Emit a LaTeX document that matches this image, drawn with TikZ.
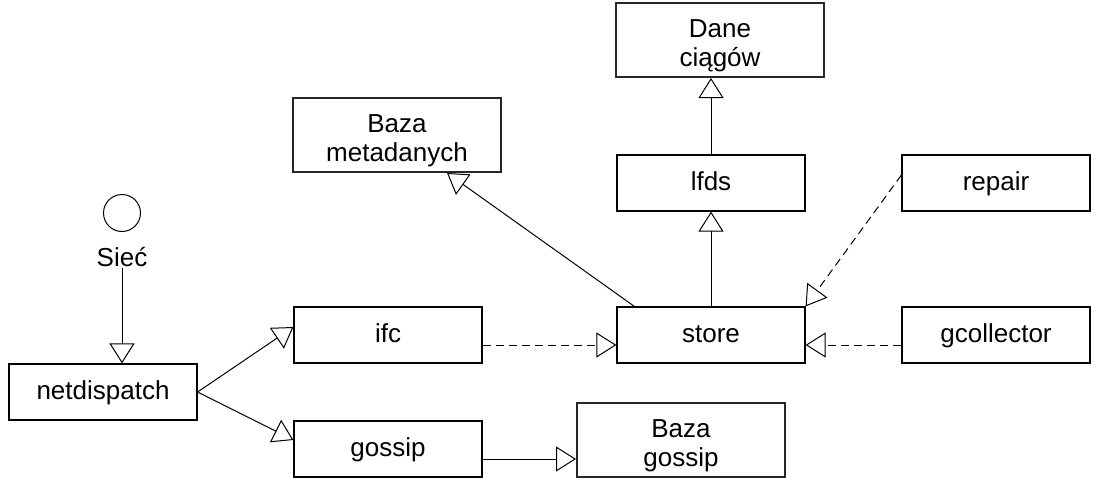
\documentclass[tikz,border=0pt]{standalone}
\usepackage{fontspec}
\setmainfont{Liberation Sans}
\usetikzlibrary{arrows.meta,positioning}

\begin{document}
\begin{tikzpicture}[x=1pt,y=-1pt,
	box/.style={draw,line width=1.2pt,minimum width=188pt,minimum height=56pt,inner sep=0pt,
		text height=19pt,text depth=5pt,font=\fontsize{26}{29}\selectfont},
	dbbox/.style={box,line width=2pt,draw=black!85,minimum width=208pt,minimum height=74pt,align=center,
		text height=63pt,text depth=10pt},
	inh/.style={line width=1pt,-{Triangle[open,length=20pt,width=25pt]}},
	dep/.style={inh,dash pattern=on 8pt off 5pt}]
	\useasboundingbox (0,0) rectangle (1100,490);
	% moduly
	\node[dbbox] (dane) at (720,40) {Dane\\ciągów};
	\node[dbbox] (meta) at (397,135) {Baza\\metadanych};
	\node[box] (lfds) at (711,183) {lfds};
	\node[box] (repair) at (996,183) {repair};
	\node[box] (ifc) at (388,335) {ifc};
	\node[box] (store) at (711,335) {store};
	\node[box] (gcoll) at (996,335) {gcollector};
	\node[box] (netd) at (103,392) {netdispatch};
	\node[box] (gossip) at (388,449) {gossip};
	\node[dbbox] (bgossip) at (681,440) {Baza\\gossip};
	\node[circle,draw,line width=1pt,minimum size=37pt,inner sep=0pt] (siec) at (122,213) {};
	\node[font=\fontsize{26}{30}\selectfont,inner sep=2pt,anchor=base] (siecl) at (122,266) {Sieć};
	% zaleznosci
	\coordinate (g1) at ([yshift=-10pt]gossip.east);
	\draw[inh] (siecl.south) -- (netd.north -| siecl);
	\draw[inh] (netd.east) -- ([yshift=8pt]ifc.west);
	\draw[inh] (netd.east) -- ([yshift=9pt]gossip.west);
	\draw[inh] (g1) -- (g1 -| bgossip.west);
	\draw[dep] ([yshift=-10pt]ifc.east) -- ([yshift=-10pt]store.west);
	\draw[dep] ([yshift=-10pt]gcoll.west) -- ([yshift=-10pt]store.east);
	\draw[dep] ([yshift=8pt]repair.west) -- (store.north east);
	\draw[inh] (store.north) -- (lfds.south);
	\draw[inh] (lfds.north) -- (lfds.north |- dane.south);
	\draw[inh] ([xshift=18pt]store.north west) -- ([xshift=50pt]meta.south);
\end{tikzpicture}
\end{document}
